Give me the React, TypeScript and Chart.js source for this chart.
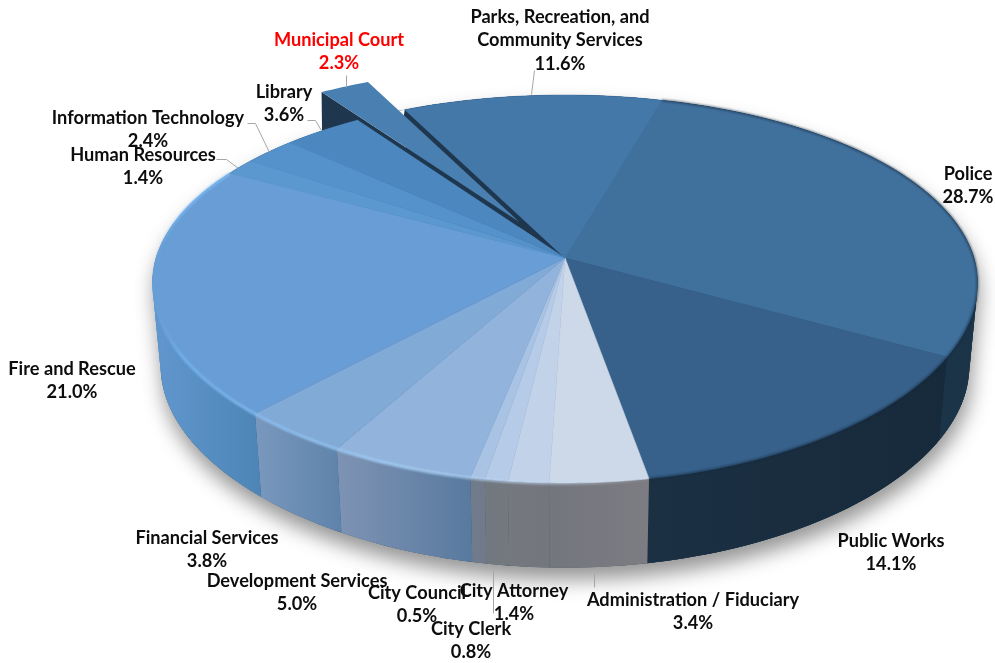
import React, { useEffect, useRef } from "react";
import { Chart, registerables } from "chart.js";

Chart.register(...registerables);

const categories = [
  "Police",
  "Public Works",
  "Administration / Fiduciary",
  "City Attorney",
  "City Clerk",
  "City Council",
  "Development Services",
  "Financial Services",
  "Fire and Rescue",
  "Human Resources",
  "Information Technology",
  "Library",
  "Municipal Court",
  "Parks, Recreation, and|Community Services",
];
const shares = [28.7, 14.1, 3.4, 1.4, 0.8, 0.5, 5.0, 3.8, 21.0, 1.4, 2.4, 3.6, 2.3, 11.6];

const topColors = ["#40709C", "#37618A", "#CDD9E9", "#C2D2E9", "#B6CBE7", "#A8C3E3", "#92B4DC", "#82AAD7", "#689ED5", "#5C98D0", "#5591CA", "#4C88BF", "#4A7FB2", "#4478A9"];
const wallStops = [
  ["#1E3A52", "#1B3347"],
  ["#1B3043", "#172A3B"],
  ["#74767E", "#7C7C82"],
  ["#75787F", "#74767E"],
  ["#72787F", "#747980"],
  ["#6F7C8C", "#72798A"],
  ["#7E93B4", "#587A9E"],
  ["#7A98BD", "#5E83AA"],
  ["#6197CE", "#4D85B6"],
  ["#3F6D98", "#3F6D98"],
  ["#3F6D98", "#3F6D98"],
  ["#3F6D98", "#3F6D98"],
  ["#1E374E", "#1E374E"],
  ["#1E374E", "#1E374E"],
];
const labelPlaces = [
  [968, 174], [891, 541], [693, 600], [514, 591], [471, 629], [417, 593], [297, 581],
  [207, 538], [72, 369], [143, 155], [148, 118], [284, 92], [339, 40], [560, 17],
];
const leaders = [
  [[346, 75], [346, 87]],
  [[534, 70], [531, 94]],
  [[307, 120], [315, 120], [321, 130]],
  [[247, 123], [255, 123], [269, 152]],
  [[216, 159], [226, 159], [238, 168]],
  [[493, 571], [493, 613]],
  [[594, 573], [594, 587]],
];

const TILT = 0.16;
const TOP_RY = 189;
const X_TILT_FRONT = 0.13;
const X_TILT_BACK = 0.14;
const WALL_TILT = 0.18;
const WALL_RY = 185;
const WALL_DROP = 84;
const WALL_SCALE = 0.98;
const MUNICIPAL = 12;

type P = { x: number; y: number };

function project(cx: number, cy: number, r: number, u: number, v: number, low = false): P {
  const wy = 1 - (low ? WALL_TILT : TILT) * v;
  const wx = 1 - (v > 0 ? X_TILT_FRONT : X_TILT_BACK) * v;
  return {
    x: cx + ((low ? WALL_SCALE : 1) * r * u) / wx,
    y: cy + (low ? WALL_DROP : 0) + ((low ? WALL_RY : TOP_RY) * v) / wy,
  };
}

function rimPoints(el: any, off = 0, low = false) {
  const pts: P[] = [];
  const mid = (el.startAngle + el.endAngle) / 2;
  const e = off / el.outerRadius;
  const n = Math.max(4, Math.ceil((el.endAngle - el.startAngle) * 60));
  for (let i = 0; i <= n; i++) {
    const a = el.startAngle + ((el.endAngle - el.startAngle) * i) / n;
    pts.push(project(el.x, el.y, el.outerRadius, Math.cos(a) + e * Math.cos(mid), Math.sin(a) + e * Math.sin(mid), low));
  }
  return pts;
}

function innerPoint(el: any, angle: number, frac: number) {
  return project(el.x, el.y, el.outerRadius, frac * Math.cos(angle), frac * Math.sin(angle));
}

function apexPoint(el: any, off = 0) {
  const mid = (el.startAngle + el.endAngle) / 2;
  const e = off / el.outerRadius;
  return project(el.x, el.y, el.outerRadius, e * Math.cos(mid), e * Math.sin(mid));
}

function trace(ctx: CanvasRenderingContext2D, pts: P[]) {
  ctx.beginPath();
  pts.forEach((p, i) => (i ? ctx.lineTo(p.x, p.y) : ctx.moveTo(p.x, p.y)));
  ctx.closePath();
}

const pie3d = {
  id: "pie3d",
  beforeDatasetsDraw(chart: any) {
    const ctx: CanvasRenderingContext2D = chart.ctx;
    const els = chart.getDatasetMeta(0).data as any[];
    const first = els[0];
    const offsetOf = (el: any) => el.options.offset || 0;

    ctx.save();
    // soft shadow beneath the disc: hull of far top rim and near bottom rim
    const hull: P[] = [];
    const side = Math.asin(X_TILT_FRONT);
    for (let i = 0; i <= 120; i++) {
      const a = Math.PI - side + ((Math.PI + 2 * side) * i) / 120;
      hull.push(project(first.x, first.y, first.outerRadius, Math.cos(a), Math.sin(a)));
    }
    for (let i = 0; i <= 120; i++) {
      const a = side + ((Math.PI - 2 * side) * i) / 120;
      hull.push(project(first.x, first.y, first.outerRadius, Math.cos(a), Math.sin(a), true));
    }
    ctx.save();
    ctx.shadowColor = "rgba(0,0,0,0.42)";
    ctx.shadowBlur = 20;
    ctx.shadowOffsetY = 12;
    ctx.shadowOffsetX = 2;
    trace(ctx, hull);
    ctx.fillStyle = "#1E374E";
    ctx.fill();
    ctx.restore();
    // clear the hollow left at the far rim by the pulled-out slice
    ctx.save();
    trace(ctx, [
      apexPoint(first),
      ...rimPoints(els[MUNICIPAL]),
    ]);
    ctx.clip();
    ctx.clearRect(0, 0, 995, 663);
    ctx.restore();

    // exploded slice side face
    const mun = els[MUNICIPAL];
    const mo = offsetOf(mun);
    const mApex = apexPoint(mun, mo);
    const mRim = rimPoints(mun, mo);
    trace(ctx, [mApex, mRim[0], { x: mRim[0].x + 1, y: mRim[0].y + WALL_DROP }, { x: mApex.x, y: mApex.y + WALL_DROP }]);
    ctx.fillStyle = "#1E374E";
    ctx.fill();

    // side walls of the main body
    els.forEach((el, i) => {
      if (i === MUNICIPAL) return;
      const t = rimPoints(el);
      const b = rimPoints(el, 0, true);
      const xs = t.concat(b).map((p) => p.x);
      const g = ctx.createLinearGradient(Math.min(...xs), 0, Math.max(...xs), 0);
      g.addColorStop(0, wallStops[i][0]);
      g.addColorStop(1, wallStops[i][1]);
      ctx.fillStyle = g;
      for (let k = 0; k + 1 < t.length; k++) {
        const e = Math.min(k + 2, t.length - 1);
        trace(ctx, [t[k], t[e], b[e], b[k]]);
        ctx.fill();
      }
    });

    // dark hollow left where the slice was pulled out
    const parks = els[MUNICIPAL + 1];
    const pApex = apexPoint(parks);
    const pRim = rimPoints(parks)[0];
    ctx.fillStyle = "#1E374E";
    trace(ctx, [
      pApex,
      innerPoint(mun, mun.startAngle, 0.5),
      innerPoint(mun, mun.endAngle, 0.5),
    ]);
    ctx.fill();
    trace(ctx, [pApex, pRim, { x: pRim.x - 1, y: pRim.y + 6 }, { x: pApex.x - 3, y: pApex.y + 4 }]);
    ctx.fill();

    // top faces
    els.forEach((el, i) => {
      if (i === MUNICIPAL) return;
      trace(ctx, [apexPoint(el)].concat(rimPoints(el)));
      ctx.fillStyle = el.options.backgroundColor;
      ctx.strokeStyle = el.options.backgroundColor;
      ctx.lineWidth = 0.6;
      ctx.fill();
      ctx.stroke();
    });
    trace(ctx, [mApex].concat(mRim));
    ctx.fillStyle = mun.options.backgroundColor;
    ctx.fill();

    // bright bevel along the front rim
    const front: P[] = [];
    els.slice(2, 9).forEach((el) => front.unshift(...rimPoints(el).reverse()));
    const fx = front.map((p) => p.x);
    const bevel = ctx.createLinearGradient(Math.min(...fx), 0, Math.max(...fx), 0);
    bevel.addColorStop(0, "rgba(120,190,250,0)");
    bevel.addColorStop(0.06, "rgba(125,190,250,0.8)");
    bevel.addColorStop(0.45, "rgba(165,210,250,0.95)");
    bevel.addColorStop(0.72, "rgba(190,220,250,0.7)");
    bevel.addColorStop(1, "rgba(220,225,235,0.1)");
    ctx.save();
    ctx.strokeStyle = bevel;
    ctx.lineWidth = 2.4;
    ctx.filter = "blur(0.8px)";
    ctx.beginPath();
    front.forEach((p, i) => (i ? ctx.lineTo(p.x, p.y + 0.5) : ctx.moveTo(p.x, p.y + 0.5)));
    ctx.stroke();
    ctx.restore();

    // dark soft edge along the far right rim
    ctx.save();
    ctx.strokeStyle = "rgba(20,40,60,0.6)";
    ctx.lineWidth = 2;
    ctx.filter = "blur(1px)";
    ctx.beginPath();
    rimPoints(els[0]).concat(rimPoints(els[1])).forEach((p, i) => (i ? ctx.lineTo(p.x, p.y) : ctx.moveTo(p.x, p.y)));
    ctx.stroke();
    ctx.restore();

    // leader lines
    ctx.strokeStyle = "#A6A6A6";
    ctx.lineWidth = 1;
    leaders.forEach((line) => {
      ctx.beginPath();
      line.forEach((p, i) => (i ? ctx.lineTo(p[0] + 0.5, p[1] + 0.5) : ctx.moveTo(p[0] + 0.5, p[1] + 0.5)));
      ctx.stroke();
    });

    // labels
    ctx.font = 'bold 18.2px Lato, "Open Sans", sans-serif';
    ctx.textAlign = "center";
    ctx.textBaseline = "middle";
    categories.forEach((name, i) => {
      const lines = name.split("|").concat(shares[i].toFixed(1) + "%");
      ctx.fillStyle = i === MUNICIPAL ? "#FF0000" : "#0D0D0D";
      lines.forEach((text, j) => {
        ctx.fillText(text, labelPlaces[i][0], labelPlaces[i][1] + j * 23.6);
      });
    });
    ctx.restore();
    return false;
  },
};

export default function App() {
  const ref = useRef<HTMLCanvasElement>(null);
  useEffect(() => {
    const chart = new Chart(ref.current as HTMLCanvasElement, {
      type: "doughnut",
      data: {
        labels: categories,
        datasets: [
          {
            data: shares,
            backgroundColor: topColors,
            borderWidth: 0,
            offset: shares.map((_, i) => (i === MUNICIPAL ? 93 : 0)),
          },
        ],
      },
      options: {
        responsive: false,
        animation: false,
        cutout: 0,
        radius: 409,
        rotation: 15.6,
        layout: { padding: { left: 135, bottom: 147 } },
        plugins: { legend: { display: false }, tooltip: { enabled: false } },
      },
      plugins: [pie3d],
    } as any);
    return () => chart.destroy();
  }, []);
  return (
    <div style={{ position: "fixed", left: 0, top: 0, width: 995, height: 663, background: "#fff" }}>
      <canvas ref={ref} width={995} height={663} style={{ display: "block" }} />
    </div>
  );
}
